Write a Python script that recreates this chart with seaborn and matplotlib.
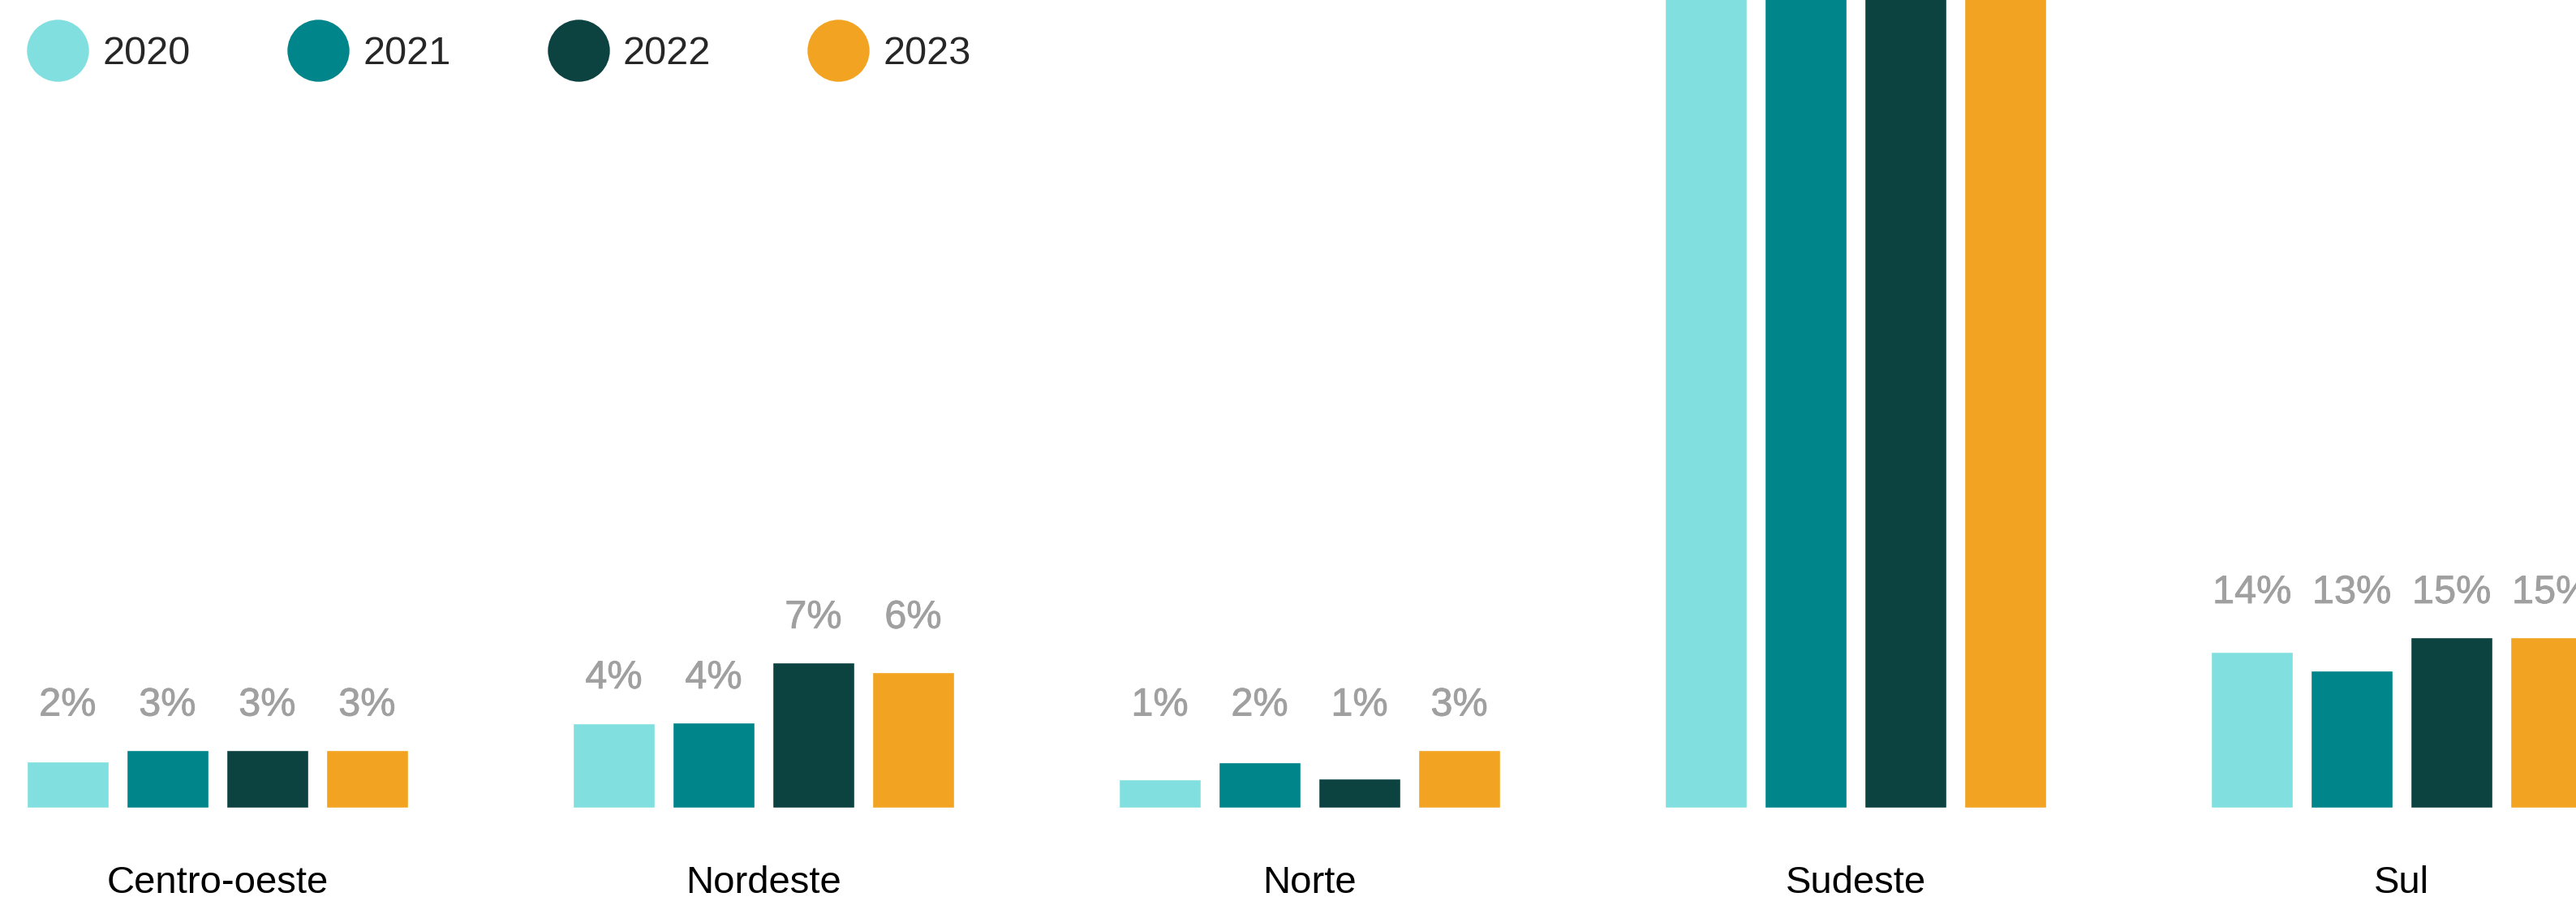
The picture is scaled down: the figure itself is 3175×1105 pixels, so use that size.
import numpy as np
import pandas as pd
import seaborn as sns
import matplotlib.pyplot as plt
import matplotlib.patheffects as pe
from matplotlib.lines import Line2D

# bar heights (same scale for all groups, Sul 2022 = 15)
regions = ['Centro-oeste', 'Nordeste', 'Norte', 'Sudeste', 'Sul']
years = ['2020', '2021', '2022', '2023']
h_2020 = [4.1, 7.4, 2.5, 75.0, 13.7]
h_2021 = [5.1, 7.5, 4.0, 75.0, 12.1]
h_2022 = [5.1, 12.8, 2.6, 75.0, 15.0]
h_2023 = [5.1, 11.9, 5.1, 75.0, 15.0]
# printed labels (Sudeste labels are off the top of the picture)
lab_2020 = ['2%', '4%', '1%', None, '14%']
lab_2021 = ['3%', '4%', '2%', None, '13%']
lab_2022 = ['3%', '7%', '1%', None, '15%']
lab_2023 = ['3%', '6%', '3%', None, '15%']
colors = ['#82DFDF', '#00858A', '#0C4341', '#F1A321']

heights = [h_2020, h_2021, h_2022, h_2023]
labels = [lab_2020, lab_2021, lab_2022, lab_2023]
rows = []
for y, hs in zip(years, heights):
    for r, v in zip(regions, hs):
        rows.append({'region': r, 'year': y, 'value': v})
df = pd.DataFrame(rows)

sns.set_style('white')
plt.rcParams['font.family'] = ['Liberation Sans', 'DejaVu Sans']

fig = plt.figure(figsize=(31.75, 11.05), dpi=100)
ax = fig.add_axes([0, 1 - 995 / 1105, 1, 995 / 1105])

sns.barplot(data=df, x='region', y='value', hue='year', order=regions,
            hue_order=years, palette=colors, saturation=1, errorbar=None,
            width=0.731, gap=0.18, legend=False, ax=ax)

ax.set_xlim(-0.398, 4.319)
ax.set_ylim(0, 71.07)
sns.despine(ax=ax, left=True, bottom=True)
ax.set_yticks([])
ax.set_xlabel('')
ax.set_ylabel('')
ax.tick_params(axis='x', length=0, pad=51, labelsize=34, labelcolor='black')

# label heights: highest bar of each pair + offset, pairs aligned if close
offset, floor, close = 3.0, 8.0, 1.5
lab_color = '#A0A0A0'
for i in range(len(regions)):
    vals = [heights[k][i] for k in range(4)]
    p1 = max(vals[0], vals[1])
    p2 = max(vals[2], vals[3])
    if abs(p1 - p2) < close:
        p1 = p2 = max(p1, p2)
    tops = [p1, p1, p2, p2]
    for k in range(4):
        if labels[k][i] is None:
            continue
        bar = ax.containers[k][i]
        xc = bar.get_x() + bar.get_width() / 2
        ax.text(xc, max(floor, tops[k] + offset), labels[k][i],
                ha='center', va='baseline', fontsize=35, color=lab_color,
                path_effects=[pe.withStroke(linewidth=0.6,
                                            foreground=lab_color)])

handles = [Line2D([], [], marker='o', linestyle='none', markersize=55,
                  markerfacecolor=c, markeredgewidth=0) for c in colors]
fig.legend(handles, years, loc='upper left', bbox_to_anchor=(0.0104, 0.960),
           ncol=4, frameon=False, fontsize=35, handlelength=1.57,
           handletextpad=0.35, columnspacing=2.45, borderpad=0,
           borderaxespad=0)

fig.savefig('out.png', dpi=100)
